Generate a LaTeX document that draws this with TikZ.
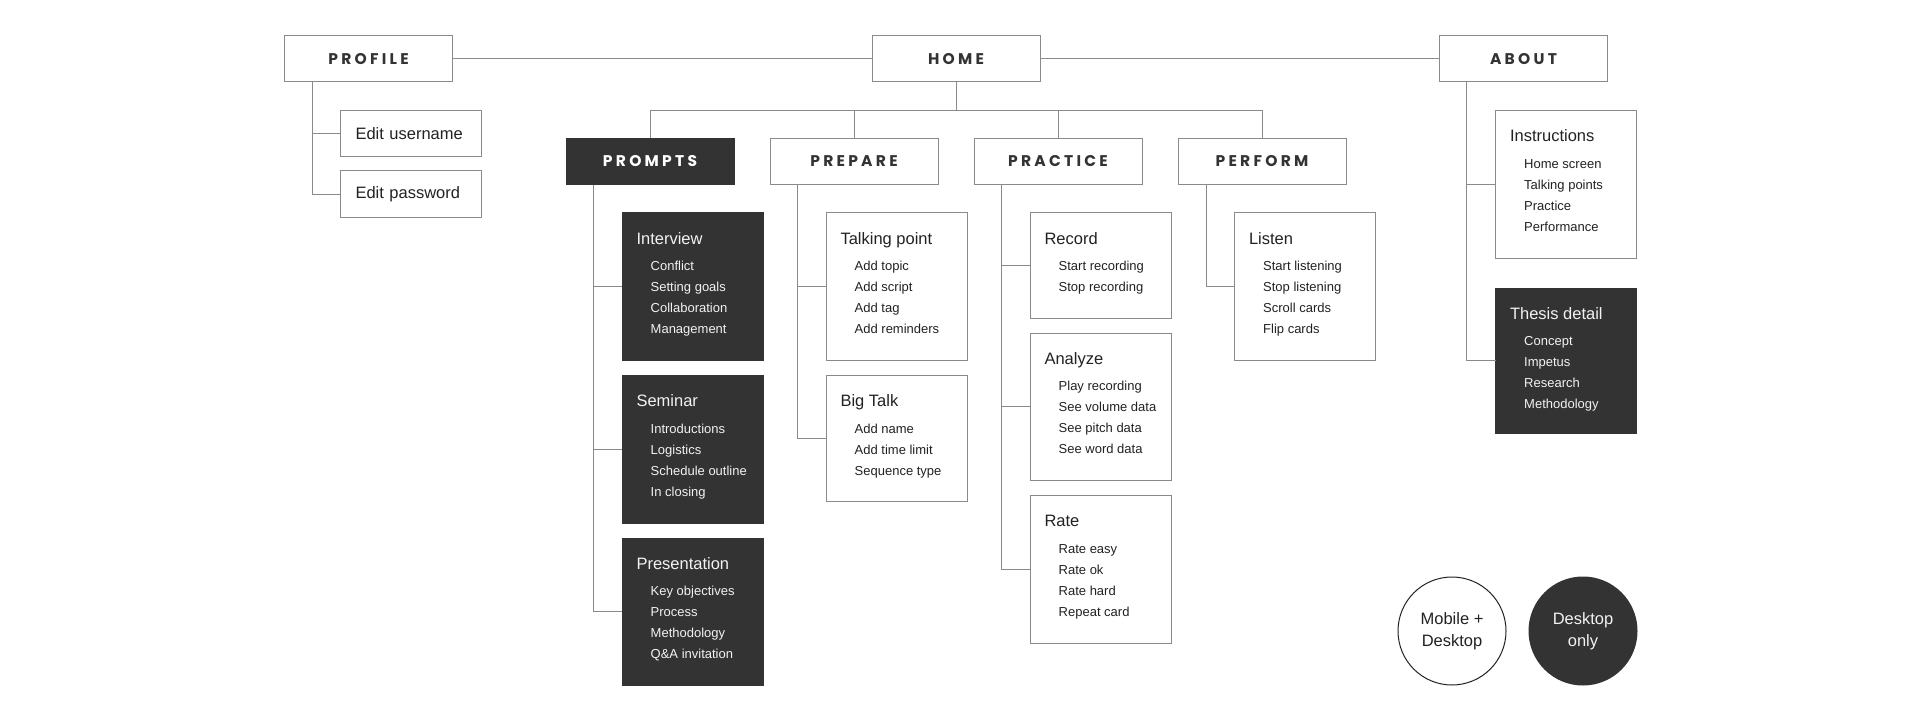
\documentclass[tikz,border=0pt]{standalone}
\usepackage{fontspec}
\setmainfont{Liberation Sans}
\newfontfamily\headfont[LetterSpace=21]{Poppins}
\usepackage{tikz}
\usetikzlibrary{positioning,calc}
\definecolor{cInk}{HTML}{222222}
\definecolor{cDark}{HTML}{333333}
\definecolor{cLine}{HTML}{8A8A8A}
\definecolor{cPale}{HTML}{F2F2F2}
% box body: height, title, items
\newcommand{\leaftext}[3]{\parbox[c][#1pt][t]{141pt}{\raggedright
  \leftskip=14.5pt\fontsize{16.5}{21}\selectfont\rule{0pt}{31pt}#2\par
  \vspace{5.7pt}\leftskip=28.7pt\fontsize{13}{21}\selectfont #3\par}}
\tikzset{
  hdr/.style={draw=cLine, line width=1pt, fill=white, minimum width=168pt,
              minimum height=46pt, inner sep=0pt, text=cDark,
              font=\headfont\bfseries\fontsize{15.5}{17}\selectfont},
  hdrD/.style={hdr, fill=cDark, draw=cDark, text=white},
  leaf/.style={draw=cLine, line width=1pt, fill=white, inner sep=0pt,
               outer sep=0pt, text=cInk, anchor=north west},
  leafD/.style={leaf, fill=cDark, draw=cDark, text=cPale},
  edit/.style={leaf, text width=111pt, align=left, inner xsep=15pt,
               minimum height=46.5pt, font=\fontsize{16.5}{20}\selectfont},
  circ/.style={circle, draw=cInk, line width=1pt, fill=white, minimum size=108pt,
               inner sep=0pt, align=center, text=cInk,
               font=\fontsize{16.5}{22}\selectfont},
  circD/.style={circ, fill=cDark, draw=cDark, text=cPale},
  ln/.style={cLine, line width=1pt}
}
\begin{document}
\begin{tikzpicture}[x=1pt, y=-1pt, node distance=15pt]
\useasboundingbox (0,0) rectangle (1920,722);
% top row
\node[hdr] (profile) at (368.5,59) {PROFILE};
\node[hdr] (home) at (956,59) {HOME};
\node[hdr] (about) at (1523.5,59) {ABOUT};
% sections
\node[hdrD] (prompts) at (650,161.5) {PROMPTS};
\node[hdr, right=35pt of prompts] (prepare) {PREPARE};
\node[hdr, right=35pt of prepare] (practice) {PRACTICE};
\node[hdr, right=35pt of practice] (perform) {PERFORM};
% profile
\node[edit] (user) at ($(profile.south west)+(56.5,28)$) {Edit username};
\node[edit, below=14pt of user] (pass) {Edit password};
% prompts
\node[leafD] (interview) at ($(prompts.south west)+(56.5,28)$) {\leaftext{147.5}{Interview}{Conflict\\Setting goals\\Collaboration\\Management}};
\node[leafD, below=of interview] (seminar) {\leaftext{147.5}{Seminar}{Introductions\\Logistics\\Schedule outline\\In closing}};
\node[leafD, below=of seminar] (present) {\leaftext{147.5}{Presentation}{Key objectives\\Process\\Methodology\\Q\&A invitation}};
% prepare
\node[leaf] (talk) at ($(prepare.south west)+(56.5,28)$) {\leaftext{147.5}{Talking point}{Add topic\\Add script\\Add tag\\Add reminders}};
\node[leaf, below=of talk] (bigtalk) {\leaftext{126}{Big Talk}{Add name\\Add time limit\\Sequence type}};
% practice
\node[leaf] (record) at ($(practice.south west)+(56.5,28)$) {\leaftext{105}{Record}{Start recording\\Stop recording}};
\node[leaf, below=of record] (analyze) {\leaftext{147.5}{Analyze}{Play recording\\See volume data\\See pitch data\\See word data}};
\node[leaf, below=of analyze] (rate) {\leaftext{147.5}{Rate}{Rate easy\\Rate ok\\Rate hard\\Repeat card}};
% perform
\node[leaf] (listen) at ($(perform.south west)+(57,28)$) {\leaftext{147.5}{Listen}{Start listening\\Stop listening\\Scroll cards\\Flip cards}};
% about
\node[leaf] (instr) at ($(about.south west)+(56.5,28.5)$) {\leaftext{147.5}{Instructions}{Home screen\\Talking points\\Practice\\Performance}};
\node[leafD, below=29.5pt of instr] (thesis) {\leaftext{145}{Thesis detail}{Concept\\Impetus\\Research\\Methodology}};
% legend
\node[circ] (mobile) at (1452,631) {Mobile +\\Desktop};
\node[circD, right=22pt of mobile] (desk) {Desktop\\only};
% connectors
\draw[ln](profile)--(home);\draw[ln](home)--(about);
\coordinate (bus) at ($(home.south)+(0,28)$);
\draw[ln](home.south)--(bus);\draw[ln](prompts.north)|-(bus)-|(perform.north);
\draw[ln](prepare.north)--++(0,-28);\draw[ln](practice.north)--++(0,-28);
\coordinate (tA) at ($(profile.south west)+(28,0)$);
\coordinate (tB) at ($(prompts.south west)+(28,0)$);
\coordinate (tC) at ($(prepare.south west)+(27.5,0)$);
\coordinate (tD) at ($(practice.south west)+(28,0)$);
\coordinate (tE) at ($(perform.south west)+(28.5,0)$);
\coordinate (tF) at ($(about.south west)+(27,0)$);
\draw[ln](tA)|-(user.west);\draw[ln](tA)|-(pass.west);
\draw[ln](tB)|-(interview.west);\draw[ln](tB)|-(seminar.west);\draw[ln](tB)|-(present.west);
\draw[ln](tC)|-(talk.west);\draw[ln](tC)|-(bigtalk.west);
\draw[ln](tD)|-(record.west);\draw[ln](tD)|-(analyze.west);\draw[ln](tD)|-(rate.west);
\draw[ln](tE)|-(listen.west);
\draw[ln](tF)|-(instr.west);\draw[ln](tF)|-(thesis.west);
\end{tikzpicture}
\end{document}
